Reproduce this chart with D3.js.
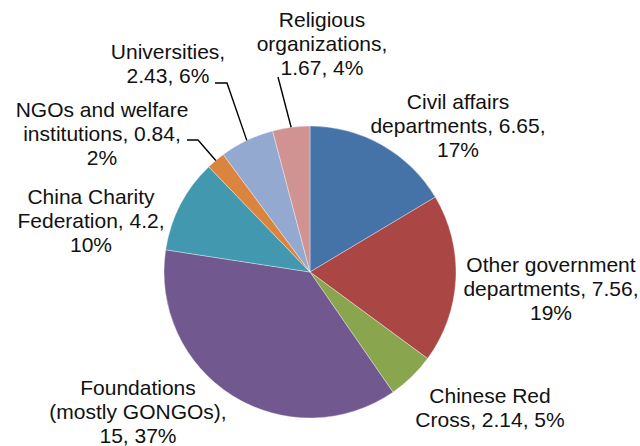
<!DOCTYPE html>
<html>
<head>
<meta charset="utf-8">
<script src="https://cdn.jsdelivr.net/npm/d3@7/dist/d3.min.js"></script>
<style>
  html, body { margin: 0; padding: 0; background: #fff; }
  svg { display: block; }
  text { font-family: "Liberation Sans", Arial, sans-serif; font-size: 21px; fill: #111; }
</style>
</head>
<body>
<svg id="chart" width="640" height="446"></svg>
<script>
// Funding sources (billion yuan), clockwise from 12 o'clock
const categories = [
  "Civil affairs departments",
  "Other government departments",
  "Chinese Red Cross",
  "Foundations (mostly GONGOs)",
  "China Charity Federation",
  "NGOs and welfare institutions",
  "Universities",
  "Religious organizations"
];
const values = [6.65, 7.56, 2.14, 15, 4.2, 0.84, 2.43, 1.67];
const percentLabels = ["17%", "19%", "5%", "37%", "10%", "2%", "6%", "4%"];
const colors = ["#4572A7", "#AA4643", "#89A54E", "#71588F", "#4198AF", "#DB843D", "#93A9CF", "#D19392"];

// words per line for each wrapped label
const wordsPerLine = [[2, 2, 1], [2, 2, 1], [2, 3], [1, 2, 2], [2, 2, 1], [3, 2, 1], [1, 2], [1, 1, 2]];
// label block placement: centre x, first baseline y
const labelAnchor = [[458, 109], [551, 272], [490, 403], [138, 395], [91, 204], [102, 117], [168, 59], [322, 27]];
// leader line start points (label side); null = no leader
const leaderStart = [null, null, null, null, null, [[187, 140], [198, 140]], [[215, 83], [227, 83]], [[278, 77]]];

const cx = 310, cy = 272, radius = 146, lineHeight = 24;

const svg = d3.select("#chart");
const g = svg.append("g").attr("transform", `translate(${cx},${cy})`);

const pie = d3.pie().sort(null).value(d => d.value);
const data = categories.map((c, i) => ({ name: c, value: values[i], pct: percentLabels[i], color: colors[i] }));
const arcs = pie(data);
const arc = d3.arc().innerRadius(0).outerRadius(radius);

g.selectAll("path.slice")
  .data(arcs)
  .join("path")
  .attr("class", "slice")
  .attr("d", arc)
  .attr("fill", d => d.data.color)
  .attr("stroke", "#fff")
  .attr("stroke-opacity", 0.6)
  .attr("stroke-width", 0.6);

// leader lines run to the middle of the slice's outer edge
arcs.forEach((a, i) => {
  if (!leaderStart[i]) return;
  const mid = (a.startAngle + a.endAngle) / 2;
  const end = [cx + radius * Math.sin(mid), cy - radius * Math.cos(mid)];
  const pts = leaderStart[i].concat([end]);
  svg.append("path")
    .attr("d", d3.line()(pts))
    .attr("fill", "none")
    .attr("stroke", "#000")
    .attr("stroke-width", 1.4);
});

// data labels: "category, value, percent" wrapped to lines
arcs.forEach((a, i) => {
  const words = `${a.data.name}, ${a.data.value}, ${a.data.pct}`.split(" ");
  const lines = [];
  let k = 0;
  wordsPerLine[i].forEach(n => { lines.push(words.slice(k, k + n).join(" ")); k += n; });
  const t = svg.append("text")
    .attr("text-anchor", "middle")
    .attr("x", labelAnchor[i][0])
    .attr("y", labelAnchor[i][1]);
  lines.forEach((ln, j) => {
    t.append("tspan")
      .attr("x", labelAnchor[i][0])
      .attr("y", labelAnchor[i][1] + j * lineHeight)
      .text(ln);
  });
});
</script>
</body>
</html>
